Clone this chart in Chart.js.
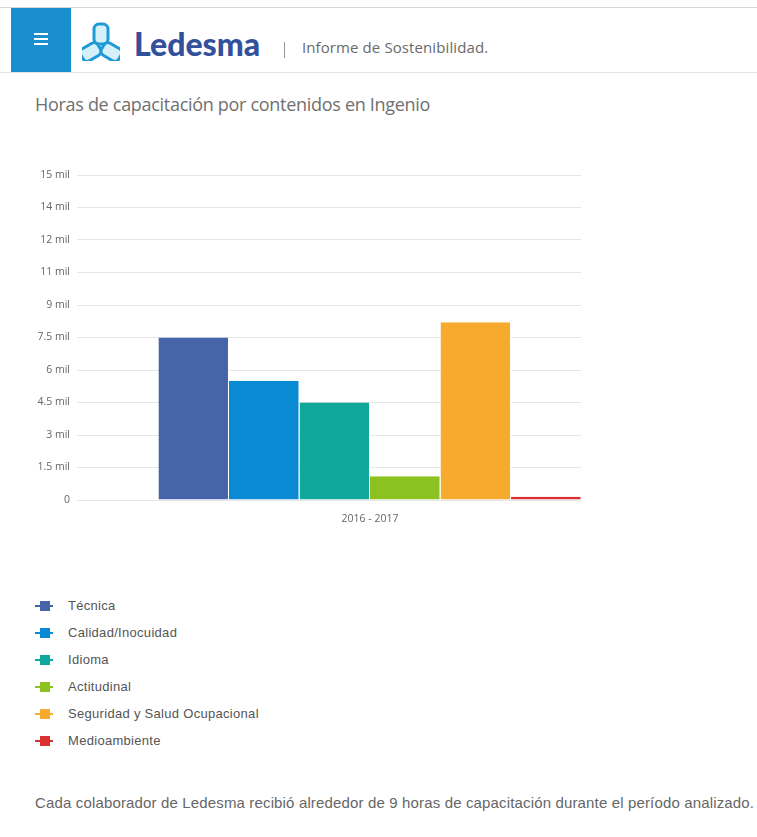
<!DOCTYPE html>
<html>
<head>
<meta charset="utf-8">
<script src="https://cdn.jsdelivr.net/npm/chart.js@4/dist/chart.umd.min.js"></script>
<style>
  html, body { margin: 0; padding: 0; background: #fff; }
  body { width: 757px; height: 837px; position: relative; overflow: hidden; font-family: "Open Sans", sans-serif; }
  #topline { position: absolute; left: 0; top: 7px; width: 757px; height: 1px; background: #d8d8d8; }
  #header { position: absolute; left: 0; top: 8px; width: 757px; height: 64px; border-bottom: 1px solid #e3e3e3; }
  #menu { position: absolute; left: 11px; top: 0; width: 60px; height: 64px; background: #1a8fd0; }
  #menu span { position: absolute; left: 23px; width: 14px; height: 2px; background: #fff; }
  #logo { position: absolute; left: 82px; top: 13px; }
  #brand { position: absolute; left: 134px; top: 17px; font-family: Lato, sans-serif; font-weight: 900; font-size: 32px; color: #33509d; line-height: 38px; }
  #sep { position: absolute; left: 284px; top: 34px; width: 1px; height: 16px; background: #999; }
  #informe { position: absolute; left: 302px; top: 29px; font-size: 15px; color: #6a6a6a; line-height: 20px; letter-spacing: 0.1px; }
  #title { position: absolute; left: 35px; top: 91px; font-size: 18px; color: #707070; line-height: 26px; font-weight: 400; letter-spacing: -0.3px; }
  #chartclip { position: absolute; left: 0; top: 160px; width: 581px; height: 370px; overflow: hidden; }
  #chartbox { position: absolute; left: 0; top: 0; width: 663px; height: 365px; }
  #legend { position: absolute; left: 35px; top: 597px; }
  .li { position: relative; height: 27px; font-family: "Liberation Sans", Arial, sans-serif; font-size: 13px; letter-spacing: 0.3px; color: #555; line-height: 18px; }
  .li .ln { position: absolute; left: 0; top: 8px; width: 18px; height: 2px; }
  .li .sq { position: absolute; left: 5px; top: 4px; width: 10px; height: 10px; }
  .li .tx { position: absolute; left: 33px; top: 0; white-space: nowrap; }
  #note { position: absolute; left: 35px; top: 793px; font-family: "Liberation Sans", Arial, sans-serif; font-size: 15px; letter-spacing: 0.15px; color: #666; white-space: nowrap; line-height: 20px; }
</style>
</head>
<body>
<div id="topline"></div>
<div id="header">
  <div id="menu"><span style="top:25px"></span><span style="top:30px"></span><span style="top:35px"></span></div>
  <svg id="logo" width="38" height="40" viewBox="0 0 38 40">
    <g fill="#d6f0fa" stroke="#1e9ad6" stroke-width="3" stroke-linejoin="round">
      <rect x="12" y="3" width="14" height="20" rx="5"/>
      <rect x="12" y="3" width="14" height="20" rx="5" transform="rotate(-120 19 25)"/>
      <rect x="12" y="3" width="14" height="20" rx="5" transform="rotate(120 19 25)"/>
    </g>
  </svg>
  <div id="brand">Ledesma</div>
  <div id="sep"></div>
  <div id="informe">Informe de Sostenibilidad.</div>
</div>
<div id="title">Horas de capacitación por contenidos en Ingenio</div>
<div id="chartclip"><div id="chartbox"><canvas id="c"></canvas></div></div>
<div id="legend"></div>
<div id="note">Cada colaborador de Ledesma recibió alrededor de 9 horas de capacitación durante el período analizado.</div>

<script>
const categories = ['2016 - 2017'];
const seriesNames = ['Técnica', 'Calidad/Inocuidad', 'Idioma', 'Actitudinal', 'Seguridad y Salud Ocupacional', 'Medioambiente'];
const tecnica = [7500];
const calidad = [5500];
const idioma = [4500];
const actitudinal = [1100];
const seguridad = [8200];
const medioambiente = [150];
const seriesColors = ['#4565a8', '#0a8ad2', '#10a89b', '#8cc21f', '#f7ab2e', '#d9312f'];
const yTickLabels = ['0', '1.5 mil', '3 mil', '4.5 mil', '6 mil', '7.5 mil', '9 mil', '11 mil', '12 mil', '14 mil', '15 mil'];

const seriesValues = [tecnica, calidad, idioma, actitudinal, seguridad, medioambiente];
const datasets = seriesNames.map((n, i) => ({
  label: n,
  data: seriesValues[i],
  backgroundColor: seriesColors[i],
  borderColor: '#ffffff',
  borderWidth: { left: 0, right: 1, top: 0, bottom: 0 },
  borderSkipped: false,
  barPercentage: 1,
  categoryPercentage: 0.722
}));

const chart = new Chart(document.getElementById('c'), {
  type: 'bar',
  data: { labels: categories, datasets },
  options: {
    responsive: true,
    maintainAspectRatio: false,
    animation: false,
    layout: { padding: { top: 15, right: 0, left: 0, bottom: 0 } },
    plugins: { legend: { display: false }, tooltip: { enabled: false } },
    scales: {
      x: {
        grid: { display: false },
        border: { display: false },
        ticks: { color: '#666', font: { family: 'Open Sans', size: 10.5 }, padding: 5 },
        afterFit: (s) => { s.height = 25; }
      },
      y: {
        min: 0, max: 15000,
        grid: { color: '#e6e6e6', drawTicks: false },
        border: { display: false },
        ticks: {
          stepSize: 1500,
          padding: 7,
          color: '#666',
          font: { family: 'Open Sans', size: 10.5 },
          callback: (v, i) => yTickLabels[i]
        },
        afterFit: (s) => { s.width = 77; }
      }
    }
  }
});

const legend = document.getElementById('legend');
chart.data.datasets.forEach(ds => {
  const d = document.createElement('div');
  d.className = 'li';
  d.innerHTML = '<div class="ln" style="background:' + ds.backgroundColor + '"></div><div class="sq" style="background:' + ds.backgroundColor + '"></div><div class="tx"></div>';
  d.querySelector('.tx').textContent = ds.label;
  legend.appendChild(d);
});
</script>
</body>
</html>
